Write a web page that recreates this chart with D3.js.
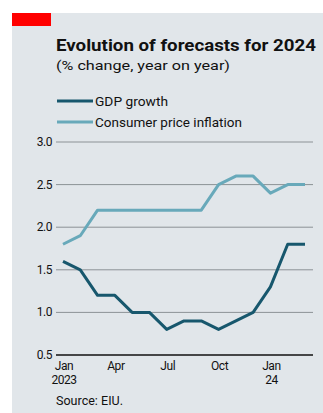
<!DOCTYPE html>
<html>
<head>
<meta charset="utf-8" />
<title>Evolution of forecasts for 2024</title>
<script src="https://cdn.jsdelivr.net/npm/d3@7"></script>
<style>
  body { margin: 0; background: #fff; }
  text { font-family: Roboto, "Open Sans", sans-serif; fill: #111; }
</style>
</head>
<body>
<script>
  // data, monthly forecasts Jan 2023 - Mar 2024
  const months = ["Jan","Feb","Mar","Apr","May","Jun","Jul","Aug","Sep","Oct","Nov","Dec","Jan","Feb","Mar"];
  const gdp = [1.6, 1.5, 1.2, 1.2, 1.0, 1.0, 0.8, 0.9, 0.9, 0.8, 0.9, 1.0, 1.3, 1.8, 1.8];
  const cpi = [1.8, 1.9, 2.2, 2.2, 2.2, 2.2, 2.2, 2.2, 2.2, 2.5, 2.6, 2.6, 2.4, 2.5, 2.5];
  const yTicks = [0.5, 1.0, 1.5, 2.0, 2.5, 3.0];
  const xTicks = [0, 3, 6, 9, 12];
  const yearLabels = {0: "2023", 12: "24"};

  const W = 323, H = 413;
  const gdpColor = "#17576d", cpiColor = "#68a9ba";

  const svg = d3.select("body").append("svg")
      .attr("width", W)
      .attr("height", H);

  // panel background
  svg.append("rect")
      .attr("x", 12).attr("y", 13)
      .attr("width", W - 12).attr("height", H - 13)
      .attr("fill", "#e1e6ea");

  svg.append("rect")
      .attr("x", 12).attr("y", 13)
      .attr("width", 39).attr("height", 13)
      .attr("fill", "#f00");

  svg.append("text")
      .attr("x", 56).attr("y", 51)
      .attr("font-size", 16.5)
      .attr("font-weight", "bold")
      .attr("textLength", 260)
      .attr("lengthAdjust", "spacingAndGlyphs")
      .text("Evolution of forecasts for 2024");

  svg.append("text")
      .attr("x", 56).attr("y", 70)
      .attr("font-size", 13.5)
      .attr("textLength", 174)
      .attr("lengthAdjust", "spacingAndGlyphs")
      .text("(% change, year on year)");

  // legend
  const legend = [
    {name: "GDP growth", color: gdpColor, y: 101, len: 73},
    {name: "Consumer price inflation", color: cpiColor, y: 122, len: 147}
  ];
  legend.forEach(function(l) {
    svg.append("line")
        .attr("x1", 57).attr("x2", 93)
        .attr("y1", l.y).attr("y2", l.y)
        .attr("stroke", l.color)
        .attr("stroke-width", 3);
    svg.append("text")
        .attr("x", 95).attr("y", l.y + 4.5)
        .attr("font-size", 13)
        .attr("textLength", l.len)
        .attr("lengthAdjust", "spacingAndGlyphs")
        .text(l.name);
  });

  const x = d3.scaleLinear().domain([0, months.length - 1]).range([63, 305]);
  const y = d3.scaleLinear().domain([0.5, 3.0]).range([355, 142]);

  // gridlines
  svg.append("g")
    .selectAll("line")
    .data(yTicks.slice(1))
    .join("line")
      .attr("x1", 56).attr("x2", 313)
      .attr("y1", d => y(d)).attr("y2", d => y(d))
      .attr("stroke", "#8c9296")
      .attr("stroke-width", 1);

  svg.append("g")
    .selectAll("text")
    .data(yTicks)
    .join("text")
      .attr("x", 52)
      .attr("y", d => y(d) + 4)
      .attr("text-anchor", "end")
      .attr("font-size", 12)
      .attr("letter-spacing", -0.5)
      .text(d => d.toFixed(1));

  const line = d3.line()
      .x((d, i) => x(i))
      .y(d => y(d));

  svg.append("path")
      .datum(cpi)
      .attr("d", line)
      .attr("fill", "none")
      .attr("stroke", cpiColor)
      .attr("stroke-width", 3)
      .attr("stroke-linejoin", "round");

  svg.append("path")
      .datum(gdp)
      .attr("d", line)
      .attr("fill", "none")
      .attr("stroke", gdpColor)
      .attr("stroke-width", 3)
      .attr("stroke-linejoin", "round");

  // baseline
  svg.append("line")
      .attr("x1", 56).attr("x2", 313)
      .attr("y1", y(0.5)).attr("y2", y(0.5))
      .attr("stroke", "#111")
      .attr("stroke-width", 1.5);

  // x labels
  const xl = svg.append("g");
  xTicks.forEach(function(i) {
    xl.append("text")
        .attr("x", x(i) + 1).attr("y", 370)
        .attr("text-anchor", "middle")
        .attr("font-size", 12)
        .attr("letter-spacing", -0.4)
        .text(months[i]);
    if (yearLabels[i]) {
      xl.append("text")
          .attr("x", x(i) + 1).attr("y", 384)
          .attr("text-anchor", "middle")
          .attr("font-size", 12)
          .attr("letter-spacing", -0.5)
          .text(yearLabels[i]);
    }
  });

  svg.append("text")
      .attr("x", 56).attr("y", 405)
      .attr("font-size", 12)
      .attr("textLength", 67)
      .attr("lengthAdjust", "spacingAndGlyphs")
      .text("Source: EIU.");
</script>
</body>
</html>
